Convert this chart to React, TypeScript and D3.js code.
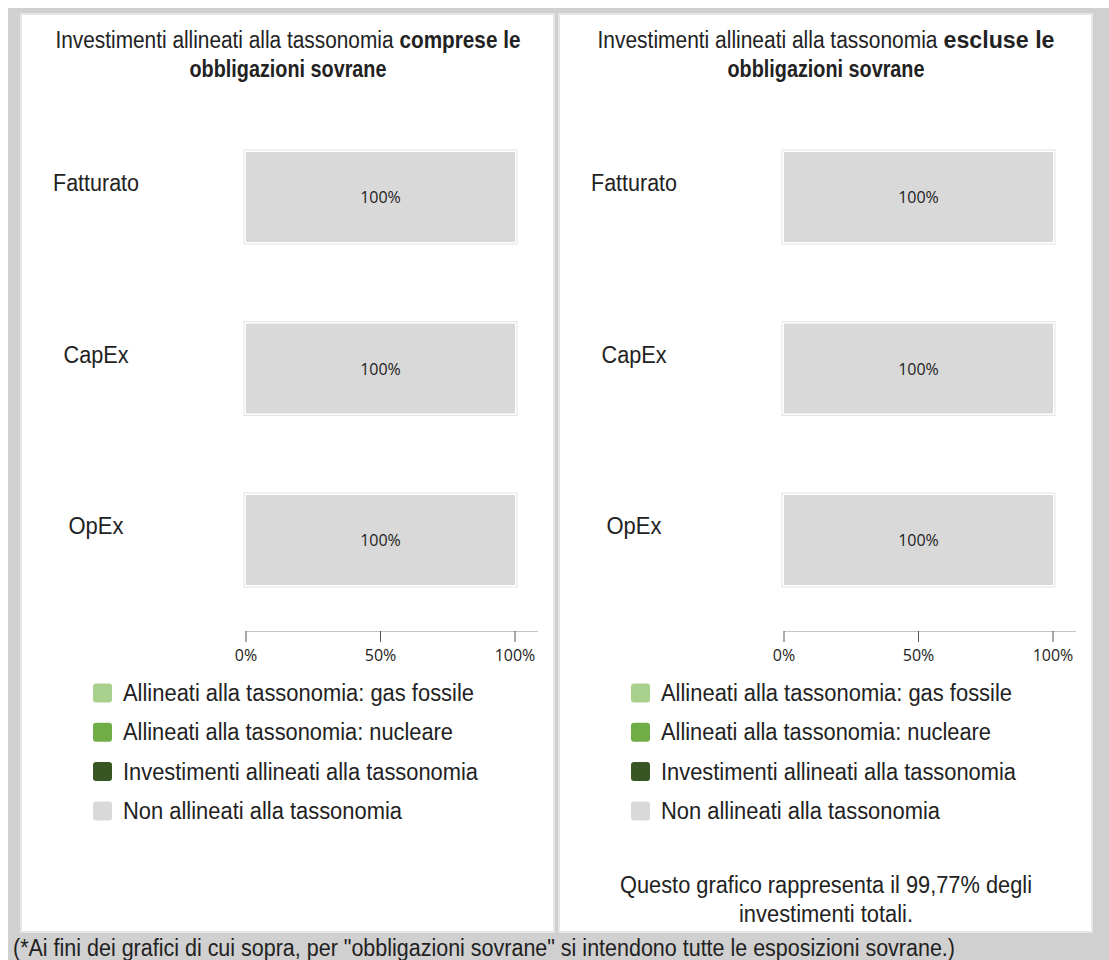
import React from "react";
import * as d3 from "d3";

const categories = ["Fatturato", "CapEx", "OpEx"];
const seriesNames = [
  "Allineati alla tassonomia: gas fossile",
  "Allineati alla tassonomia: nucleare",
  "Investimenti allineati alla tassonomia",
  "Non allineati alla tassonomia",
];
const seriesKeys = ["gas", "nuclear", "aligned", "non"];
const seriesColors = ["#a9d18e", "#70ad47", "#375623", "#d9d9d9"];

// Panel 1: including sovereign bonds
const gasIncl = [0, 0, 0];
const nuclearIncl = [0, 0, 0];
const alignedIncl = [0, 0, 0];
const nonIncl = [100, 100, 100];

// Panel 2: excluding sovereign bonds
const gasExcl = [0, 0, 0];
const nuclearExcl = [0, 0, 0];
const alignedExcl = [0, 0, 0];
const nonExcl = [100, 100, 100];

const tickValues = [0, 50, 100];

const titleRegular = "Investimenti allineati alla tassonomia";
const titleBold1 = ["comprese le", "escluse le"];
const titleLine2 = "obbligazioni sovrane";
const noteLines = ["Questo grafico rappresenta il 99,77% degli", "investimenti totali."];
const footnote =
  '(*Ai fini dei grafici di cui sopra, per "obbligazioni sovrane" si intendono tutte le esposizioni sovrane.)';

const SANS = "'Liberation Sans', Arial, Helvetica, sans-serif";
const OPEN = "'Open Sans', 'Noto Sans', sans-serif";
const TXT = "#222";
const FS = 23;
const FS_TITLE = 21;

function buildRows(gas: number[], nuc: number[], al: number[], non: number[]) {
  return categories.map((c, i) => ({ cat: c, gas: gas[i], nuclear: nuc[i], aligned: al[i], non: non[i] }));
}

const catLabelWidths = [86, 65, 55];
const legendWidths = [351, 330, 355, 279];
const titleBoldWidths = [121, 111];
const titleTotalWidths = [465, 457];

function Panel({ x0, idx, rows, note }: { x0: number; idx: number; rows: any[]; note: boolean }) {
  const x = d3.scaleLinear().domain([0, 100]).range([x0 + 224, x0 + 493]);
  const y = d3.scalePoint<string>().domain(categories).range([197, 540]);
  const barH = 90;
  const stack = d3.stack<any>().keys(seriesKeys)(rows);
  const cx = x0 + 266;
  const tStart = cx - titleTotalWidths[idx] / 2;
  const regW = titleTotalWidths[idx] - titleBoldWidths[idx] - 6;
  return (
    <g>
      <rect x={x0 - 1} y={14} width={533} height={918} fill="#fff" stroke="#e6e6e6" strokeWidth={2} />
      <text x={tStart} y={48} fontFamily={SANS} fontSize={FS_TITLE} fill={TXT}
        textLength={regW} lengthAdjust="spacingAndGlyphs" transform={`translate(${tStart},48) scale(1,1.1) translate(${-tStart},-48)`}>
        {titleRegular}
      </text>
      <text x={tStart + regW + 6} y={48} fontFamily={SANS} fontSize={FS_TITLE} fontWeight="bold" fill={TXT}
        textLength={titleBoldWidths[idx]} lengthAdjust="spacingAndGlyphs" transform={`translate(0,48) scale(1,1.1) translate(0,-48)`}>
        {titleBold1[idx]}
      </text>
      <text x={cx} y={77} textAnchor="middle" fontFamily={SANS} fontSize={FS_TITLE} fontWeight="bold" fill={TXT}
        textLength={197} lengthAdjust="spacingAndGlyphs" transform={`translate(0,77) scale(1,1.1) translate(0,-77)`}>
        {titleLine2}
      </text>
      {categories.map((c, i) => (
        <text key={c} x={x0 + 74} y={(y(c) as number) - 6} textAnchor="middle" fontFamily={SANS}
          fontSize={FS} fill={TXT} textLength={catLabelWidths[i]} lengthAdjust="spacingAndGlyphs">
          {c}
        </text>
      ))}
      {stack.map((layer, si) =>
        layer.map((d, ci) => {
          const v = d[1] - d[0];
          if (v <= 0) return null;
          const cy = y(categories[ci]) as number;
          const bx = x(d[0]);
          const bw = x(d[1]) - x(d[0]);
          return (
            <g key={`${si}-${ci}`}>
              <rect x={bx - 2} y={cy - barH / 2 - 2} width={bw + 4} height={barH + 4} fill="#fff"
                stroke="#e4e4e4" strokeWidth={1} />
              <rect x={bx} y={cy - barH / 2} width={bw} height={barH} fill={seriesColors[si]} />
              <text x={bx + bw / 2} y={cy + 6} textAnchor="middle" fontFamily={OPEN} fontSize={16} fill={TXT}>
                {`${d3.format("d")(v)}%`}
              </text>
            </g>
          );
        })
      )}
      {/* axis */}
      <line x1={x(0)} x2={x0 + 516} y1={631.5} y2={631.5} stroke="#c4c4c4" strokeWidth={1} />
      {tickValues.map((t) => (
        <g key={t}>
          <line x1={x(t)} x2={x(t)} y1={631} y2={642} stroke="#555" strokeWidth={1} />
          <text x={x(t)} y={661} textAnchor="middle" fontFamily={OPEN} fontSize={16} fill={TXT}>
            {`${t}%`}
          </text>
        </g>
      ))}
      {/* legend */}
      {seriesNames.map((s, i) => {
        const ly = 693 + i * 39.3;
        return (
          <g key={s}>
            <rect x={x0 + 71} y={ly - 9.5} width={19} height={19} rx={3} fill={seriesColors[i]} />
            <text x={x0 + 101} y={ly + 8} fontFamily={SANS} fontSize={FS} fill={TXT}
              textLength={legendWidths[i]} lengthAdjust="spacingAndGlyphs">
              {s}
            </text>
          </g>
        );
      })}
      {note && (
        <g>
          <text x={cx} y={893} textAnchor="middle" fontFamily={SANS} fontSize={FS} fill={TXT}
            textLength={412} lengthAdjust="spacingAndGlyphs">
            {noteLines[0]}
          </text>
          <text x={cx} y={922} textAnchor="middle" fontFamily={SANS} fontSize={FS} fill={TXT}
            textLength={174} lengthAdjust="spacingAndGlyphs">
            {noteLines[1]}
          </text>
        </g>
      )}
    </g>
  );
}

export default function App() {
  const rowsIncl = buildRows(gasIncl, nuclearIncl, alignedIncl, nonIncl);
  const rowsExcl = buildRows(gasExcl, nuclearExcl, alignedExcl, nonExcl);
  return (
    <svg width={1109} height={960} style={{ position: "absolute", left: 0, top: 0 }}>
      <rect x={0} y={0} width={1109} height={960} fill="#fff" />
      <rect x={8} y={8} width={1101} height={952} fill="#d0d0d0" />
      <Panel x0={22} idx={0} rows={rowsIncl} note={false} />
      <Panel x0={560} idx={1} rows={rowsExcl} note={true} />
      <text x={13} y={956} fontFamily={SANS} fontSize={FS} fill={TXT} textLength={942} lengthAdjust="spacingAndGlyphs">
        {footnote}
      </text>
    </svg>
  );
}
